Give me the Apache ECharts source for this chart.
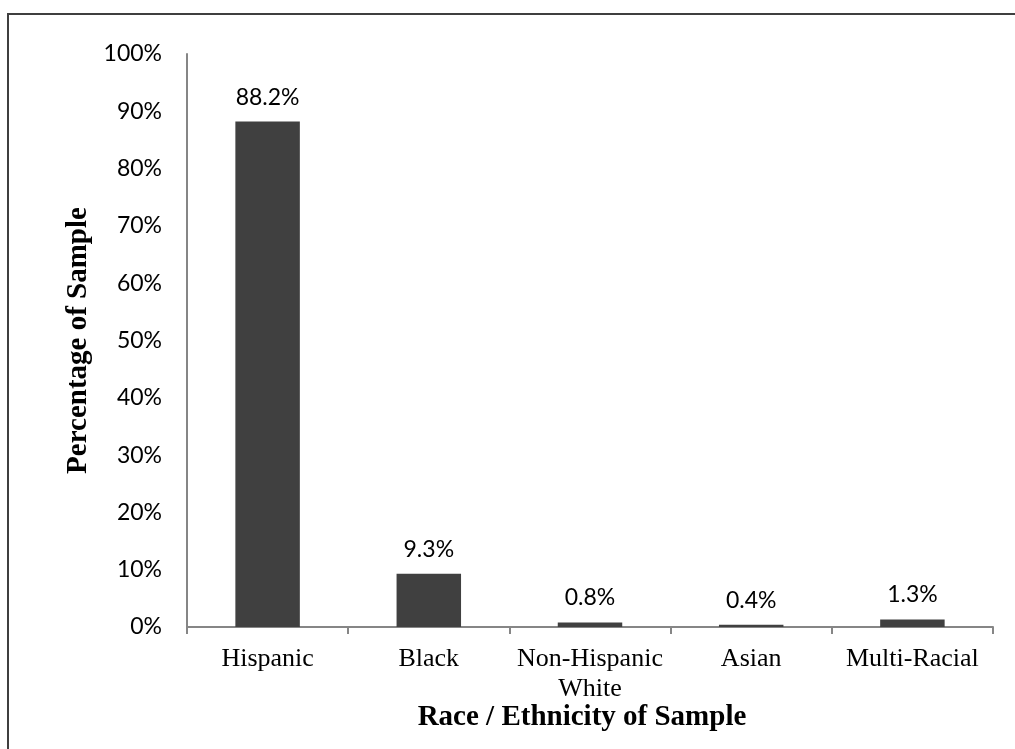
<!DOCTYPE html>
<html>
<head>
<meta charset="utf-8">
<script src="https://cdn.jsdelivr.net/npm/echarts@6/dist/echarts.min.js"></script>
<style>
  html, body { margin: 0; padding: 0; background: #fff; }
  #chart { width: 1015px; height: 749px; }
</style>
</head>
<body>
<div id="chart"></div>
<script>
// Share of the sample by race / ethnicity (percent)
const categories = ['Hispanic', 'Black', 'Non-Hispanic\nWhite', 'Asian', 'Multi-Racial'];
const shares = [88.2, 9.3, 0.8, 0.4, 1.3];
const yTicks = [0, 10, 20, 30, 40, 50, 60, 70, 80, 90, 100];

const chart = echarts.init(document.getElementById('chart'), null, { renderer: 'canvas' });

const tickFont = 'Lato, "Open Sans", sans-serif';
const serifFont = '"Liberation Serif", "Times New Roman", serif';

chart.setOption({
  animation: false,
  backgroundColor: '#ffffff',
  graphic: [
    {
      type: 'rect',
      shape: { x: 8, y: 14, width: 1200, height: 1000 },
      style: { fill: 'none', stroke: '#3f3f3f', lineWidth: 2 },
      silent: true
    },
    {
      type: 'text',
      x: 582,
      y: 718,
      style: {
        text: 'Race / Ethnicity of Sample',
        font: 'bold 29px ' + serifFont,
        fill: '#000',
        align: 'center',
        verticalAlign: 'middle'
      }
    }
  ],
  grid: { left: 187, right: 22, top: 54, bottom: 122, containLabel: false },
  xAxis: {
    type: 'category',
    data: categories,
    axisLine: { show: true, lineStyle: { color: '#868686', width: 2 } },
    axisTick: { show: true, alignWithLabel: false, length: 7, lineStyle: { color: '#868686', width: 2 } },
    axisLabel: {
      margin: 17,
      color: '#000',
      fontFamily: serifFont,
      fontSize: 26,
      lineHeight: 30,
      interval: 0
    },
    splitLine: { show: false }
  },
  yAxis: {
    type: 'value',
    min: yTicks[0],
    max: yTicks[yTicks.length - 1],
    interval: 10,
    name: 'Percentage of Sample',
    nameLocation: 'middle',
    nameGap: 86,
    nameRotate: 90,
    nameTextStyle: {
      fontFamily: serifFont,
      fontWeight: 'bold',
      fontSize: 29,
      color: '#000'
    },
    axisLine: { show: true, lineStyle: { color: '#868686', width: 2 } },
    axisTick: { show: false },
    splitLine: { show: false },
    axisLabel: {
      margin: 25,
      color: '#000',
      fontFamily: tickFont,
      fontSize: 23,
      formatter: v => v + '%'
    }
  },
  series: [
    {
      type: 'bar',
      data: shares,
      barWidth: '40%',
      itemStyle: { color: '#404040' },
      label: {
        show: true,
        position: 'top',
        distance: 13,
        color: '#000',
        fontFamily: tickFont,
        fontSize: 23,
        formatter: p => p.value.toFixed(1) + '%'
      }
    }
  ]
});
</script>
</body>
</html>
